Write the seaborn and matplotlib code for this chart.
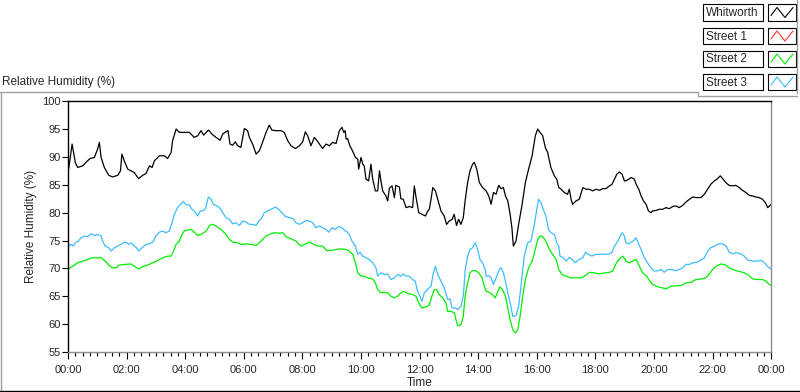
import numpy as np
import pandas as pd
import matplotlib
matplotlib.use('Agg')
import matplotlib.pyplot as plt
from matplotlib.lines import Line2D
from matplotlib.patches import Rectangle
from matplotlib.ticker import MultipleLocator, FuncFormatter
import seaborn as sns

### data (time in hours, RH in %)
whitworth_t = [0.02, 0.14, 0.25, 0.33, 0.50, 0.61, 0.75, 0.90, 1.01, 1.07, 1.13, 1.24, 1.39, 1.52, 1.70, 1.79, 1.84, 1.92,
               2.04, 2.26, 2.41, 2.55, 2.66, 2.78, 2.87, 2.95, 3.12, 3.29, 3.40, 3.52, 3.57, 3.69, 3.80, 4.14, 4.31, 4.43,
               4.54, 4.63, 4.77, 4.80, 4.91, 5.05, 5.19, 5.28, 5.39, 5.46, 5.53, 5.62, 5.71, 5.79, 5.90, 6.02, 6.13, 6.19,
               6.30, 6.42, 6.53, 6.64, 6.76, 6.87, 6.96, 7.10, 7.27, 7.38, 7.50, 7.61, 7.76, 7.90, 8.01, 8.10, 8.18, 8.29,
               8.41, 8.50, 8.58, 8.69, 8.81, 8.92, 9.03, 9.15, 9.26, 9.35, 9.41, 9.46, 9.49, 9.54, 9.62, 9.71, 9.81, 9.89,
               9.92, 10.00, 10.06, 10.11, 10.17, 10.26, 10.34, 10.40, 10.49, 10.57, 10.63, 10.68, 10.74, 10.85, 10.91,
               10.97, 11.06, 11.14, 11.19, 11.31, 11.36, 11.44, 11.54, 11.65, 11.76, 11.82, 11.88, 11.97, 12.08, 12.20,
               12.28, 12.33, 12.39, 12.45, 12.54, 12.62, 12.73, 12.84, 12.92, 13.01, 13.11, 13.18, 13.26, 13.33, 13.41,
               13.49, 13.56, 13.64, 13.72, 13.81, 13.87, 13.95, 14.04, 14.15, 14.21, 14.27, 14.36, 14.44, 14.52, 14.61,
               14.70, 14.78, 14.86, 14.93, 15.01, 15.09, 15.15, 15.20, 15.29, 15.38, 15.49, 15.61, 15.72, 15.84, 15.95,
               16.03, 16.11, 16.20, 16.29, 16.37, 16.48, 16.60, 16.68, 16.75, 16.83, 16.94, 17.05, 17.11, 17.17, 17.22,
               17.34, 17.45, 17.57, 17.68, 17.79, 17.91, 18.02, 18.14, 18.25, 18.36, 18.48, 18.57, 18.65, 18.73, 18.82,
               18.91, 18.99, 19.04, 19.14, 19.22, 19.33, 19.39, 19.48, 19.56, 19.64, 19.73, 19.81, 19.90, 19.95, 20.07,
               20.18, 20.30, 20.41, 20.52, 20.64, 20.75, 20.86, 20.98, 21.09, 21.21, 21.32, 21.43, 21.60, 21.72, 21.83,
               21.94, 22.06, 22.17, 22.26, 22.36, 22.45, 22.56, 22.68, 22.79, 22.91, 23.02, 23.14, 23.25, 23.36, 23.48,
               23.59, 23.70, 23.80, 23.88, 23.96, 24.00]
whitworth_rh = [87.8, 92.3, 89.0, 88.1, 88.4, 89.0, 89.7, 89.9, 91.4, 92.6, 89.9, 88.1, 86.7, 86.4, 86.7, 87.5, 90.5, 89.3,
                87.8, 87.2, 86.1, 86.7, 87.0, 88.4, 88.1, 89.3, 90.2, 90.2, 89.7, 90.8, 92.9, 95.0, 94.4, 94.4, 93.5, 93.8,
                94.7, 93.9, 94.7, 94.8, 94.1, 93.5, 93.0, 94.1, 94.5, 94.7, 92.3, 92.1, 92.7, 92.0, 91.7, 95.1, 94.7, 93.5,
                92.3, 90.5, 91.1, 92.6, 94.4, 95.7, 94.8, 94.7, 94.7, 94.4, 92.9, 92.0, 91.5, 92.0, 92.7, 94.5, 93.8, 92.0,
                93.5, 92.9, 92.3, 91.5, 92.3, 92.0, 92.6, 92.4, 94.7, 95.3, 94.4, 94.7, 93.2, 93.3, 92.0, 91.1, 89.9, 89.6,
                87.8, 89.9, 88.7, 88.4, 86.0, 85.7, 88.7, 86.0, 83.9, 83.9, 87.5, 85.7, 83.9, 83.0, 82.1,
                84.4, 84.8, 82.7, 84.9, 84.6, 82.5, 82.4, 80.9, 81.1, 80.9, 84.8, 82.7, 80.0, 79.7, 79.4,
                80.3, 80.6, 82.4, 84.5, 83.9, 82.4, 80.3, 79.4, 77.9, 78.5, 78.8, 79.7, 77.7, 78.8, 77.9,
                79.1, 82.4, 85.4, 87.5, 88.7, 89.0, 87.8, 85.4, 84.5, 84.2, 83.9, 83.0, 81.5, 83.6, 83.3,
                84.9, 84.3, 84.5, 83.0, 82.1, 79.7, 77.3, 74.0, 74.9, 77.9, 81.2, 85.4, 87.8, 90.2, 93.8,
                95.0, 94.4, 93.8, 91.7, 90.8, 88.1, 86.6, 86.0, 84.5, 84.2, 83.6, 83.3, 84.2, 82.4, 81.5,
                82.1, 82.4, 84.5, 84.2, 84.2, 83.9, 84.2, 84.0, 84.3, 84.3, 84.8, 85.1, 86.0, 86.9, 87.3,
                86.9, 85.7, 85.7, 86.0, 86.3, 86.0, 85.1, 84.2, 83.0, 82.1, 81.5, 80.3, 80.0, 80.3, 80.4,
                80.6, 80.6, 80.9, 80.7, 81.1, 81.2, 80.9, 81.3, 81.9, 82.4, 82.8, 82.7, 82.7, 83.3, 84.2,
                85.1, 85.7, 86.1, 86.6, 86.0, 85.4, 84.9, 84.8, 84.9, 84.5, 84.0, 83.6, 83.1, 83.0, 82.8,
                82.7, 82.4, 81.8, 80.9, 81.3, 81.5]

# Street 1 has no readings in this record
street1_t = []
street1_rh = []

street2_t = [0.02, 0.16, 0.33, 0.50, 0.67, 0.82, 1.01, 1.13, 1.27, 1.41, 1.52, 1.64, 1.75, 1.92, 2.15, 2.26, 2.41, 2.55,
             2.72, 2.89, 3.06, 3.23, 3.40, 3.52, 3.60, 3.69, 3.80, 3.89, 3.97, 4.08, 4.20, 4.31, 4.43, 4.54, 4.69, 4.77,
             4.82, 4.94, 5.05, 5.22, 5.39, 5.51, 5.62, 5.79, 5.90, 6.08, 6.25, 6.42, 6.53, 6.64, 6.76, 6.87, 7.04, 7.21,
             7.33, 7.44, 7.61, 7.78, 7.95, 8.07, 8.24, 8.35, 8.52, 8.69, 8.83, 8.98, 9.15, 9.32, 9.43, 9.49, 9.60, 9.72,
             9.81, 9.89, 10.00, 10.11, 10.23, 10.40, 10.49, 10.57, 10.68, 10.80, 10.91, 11.02, 11.14, 11.25, 11.36,
             11.44, 11.59, 11.76, 11.88, 11.97, 12.08, 12.22, 12.33, 12.42, 12.50, 12.58, 12.67, 12.79, 12.90, 12.96,
             13.07, 13.19, 13.24, 13.30, 13.41, 13.49, 13.56, 13.64, 13.72, 13.81, 13.92, 14.02, 14.13, 14.21, 14.27,
             14.38, 14.49, 14.58, 14.66, 14.74, 14.83, 14.93, 15.01, 15.09, 15.18, 15.27, 15.35, 15.43, 15.52, 15.61,
             15.72, 15.84, 15.95, 16.03, 16.11, 16.20, 16.31, 16.43, 16.54, 16.66, 16.75, 16.86, 17.00, 17.17, 17.34,
             17.51, 17.66, 17.79, 17.96, 18.13, 18.31, 18.48, 18.59, 18.70, 18.82, 18.93, 19.02, 19.04, 19.16, 19.27,
             19.39, 19.50, 19.61, 19.75, 19.86, 19.95, 20.13, 20.30, 20.41, 20.58, 20.75, 20.92, 21.09, 21.26, 21.43,
             21.60, 21.77, 21.89, 22.00, 22.12, 22.29, 22.45, 22.55, 22.68, 22.86, 23.03, 23.20, 23.37, 23.54, 23.71,
             23.82, 23.94, 24.00]
street2_rh = [69.9, 70.4, 71.0, 71.3, 71.6, 71.9, 71.9, 71.9, 71.3, 70.5, 70.1, 70.1, 70.6, 70.7, 70.8, 70.4, 69.9, 70.3,
              70.6, 71.0, 71.4, 71.9, 72.2, 72.2, 73.1, 74.3, 74.9, 76.1, 76.7, 76.9, 77.0, 76.5, 75.9, 76.1, 76.6, 77.1,
              77.7, 77.9, 77.6, 77.0, 76.1, 75.2, 74.7, 74.6, 74.3, 74.4, 74.3, 74.1, 74.6, 75.2, 75.8, 76.1, 76.4, 76.3,
              76.4, 75.7, 75.3, 74.9, 74.0, 74.3, 74.7, 74.4, 74.0, 74.0, 73.2, 73.2, 73.4, 73.5, 73.4, 73.4, 73.1, 72.5,
              71.0, 69.2, 68.6, 68.6, 68.3, 68.1, 67.4, 66.2, 65.6, 65.7, 65.6, 65.0, 64.7, 65.0, 65.6,
              65.9, 65.5, 65.3, 65.0, 63.8, 62.9, 63.1, 63.4, 65.0, 66.2, 66.2, 65.3, 64.7, 63.8, 62.3,
              62.3, 62.0, 60.8, 59.7, 59.9, 61.4, 65.3, 67.4, 69.2, 69.6, 69.6, 69.2, 68.3, 66.8, 65.9,
              65.7, 65.3, 64.7, 65.7, 66.7, 66.2, 65.0, 62.9, 60.8, 59.0, 58.4, 59.0, 61.4, 65.0, 68.0,
              70.1, 71.3, 73.4, 75.2, 75.8, 75.7, 74.9, 73.4, 72.5, 71.6, 69.8, 68.9, 68.6, 68.3, 68.3,
              68.3, 68.7, 69.3, 69.2, 69.0, 69.2, 69.3, 69.5, 70.8, 71.7, 72.2, 71.6, 71.3, 71.0, 71.3,
              71.6, 70.4, 69.2, 68.6, 67.7, 67.1, 66.7, 66.5, 66.3, 66.8, 66.9, 66.9, 67.4, 67.5, 68.0,
              68.1, 68.3, 69.0, 69.8, 70.4, 70.8, 70.6, 70.1, 69.8, 69.5, 69.3, 68.9, 68.1, 68.0, 68.0,
              67.7, 67.1, 66.9]

street3_t = [0.02, 0.10, 0.18, 0.27, 0.36, 0.44, 0.56, 0.67, 0.79, 0.90, 1.01, 1.13, 1.18, 1.27, 1.39, 1.47, 1.58, 1.70,
             1.81, 1.89, 1.98, 2.07, 2.15, 2.26, 2.34, 2.41, 2.53, 2.66, 2.78, 2.89, 3.00, 3.12, 3.23, 3.34, 3.46, 3.55,
             3.63, 3.74, 3.86, 3.94, 4.03, 4.14, 4.23, 4.31, 4.43, 4.51, 4.60, 4.69, 4.77, 4.80, 4.88, 4.96, 5.05, 5.17,
             5.28, 5.39, 5.51, 5.62, 5.73, 5.85, 5.96, 6.08, 6.19, 6.30, 6.42, 6.51, 6.62, 6.70, 6.81, 6.93, 7.08, 7.19,
             7.30, 7.42, 7.55, 7.69, 7.78, 7.90, 8.01, 8.12, 8.24, 8.35, 8.46, 8.58, 8.69, 8.81, 8.90, 9.01, 9.12, 9.24,
             9.35, 9.47, 9.49, 9.60, 9.69, 9.81, 9.89, 9.97, 10.06, 10.17, 10.28, 10.40, 10.51, 10.57, 10.68, 10.80,
             10.91, 11.02, 11.14, 11.25, 11.36, 11.44, 11.54, 11.65, 11.76, 11.85, 11.93, 12.01, 12.08, 12.16, 12.28,
             12.39, 12.47, 12.54, 12.62, 12.73, 12.84, 12.96, 13.04, 13.11, 13.22, 13.30, 13.41, 13.49, 13.56, 13.64,
             13.72, 13.81, 13.90, 13.98, 14.06, 14.15, 14.24, 14.27, 14.36, 14.44, 14.52, 14.61, 14.72, 14.78, 14.86,
             14.93, 15.01, 15.09, 15.18, 15.29, 15.38, 15.46, 15.57, 15.69, 15.80, 15.92, 15.99, 16.06, 16.14, 16.22,
             16.31, 16.40, 16.48, 16.60, 16.68, 16.75, 16.79, 16.91, 17.00, 17.11, 17.20, 17.32, 17.43, 17.57, 17.66,
             17.77, 17.88, 18.00, 18.13, 18.25, 18.36, 18.48, 18.57, 18.65, 18.73, 18.82, 18.91, 18.99, 19.04, 19.14,
             19.22, 19.29, 19.39, 19.48, 19.56, 19.67, 19.78, 19.90, 20.01, 20.14, 20.24, 20.35, 20.47, 20.58, 20.75,
             20.86, 20.98, 21.09, 21.21, 21.32, 21.46, 21.60, 21.72, 21.83, 21.94, 22.06, 22.21, 22.34, 22.46, 22.57,
             22.68, 22.80, 22.97, 23.08, 23.20, 23.37, 23.54, 23.65, 23.77, 23.88, 24.00]
street3_rh = [74.0, 74.3, 74.0, 74.7, 74.9, 75.5, 75.8, 75.7, 76.2, 75.9, 76.1, 75.8, 74.9, 74.0, 73.7, 73.1, 73.7, 74.0,
              74.3, 74.6, 74.7, 74.3, 74.6, 74.0, 73.7, 73.1, 73.7, 74.3, 74.4, 74.7, 75.8, 76.5, 76.7, 76.4, 76.7, 78.2,
              79.7, 80.9, 81.6, 82.0, 81.4, 81.4, 80.6, 80.3, 79.4, 80.3, 80.3, 80.7, 82.4, 82.8, 82.4, 81.5, 81.3, 80.9,
              80.0, 79.1, 78.8, 78.0, 78.2, 77.7, 78.5, 78.3, 77.9, 77.9, 77.7, 78.5, 79.1, 80.0, 80.3, 80.6, 81.0, 80.6,
              80.0, 79.3, 79.1, 78.9, 78.2, 77.9, 78.2, 78.6, 78.5, 78.2, 77.3, 77.6, 77.3, 77.0, 76.5, 77.3, 77.0, 77.5,
              77.3, 76.7, 76.7, 76.1, 74.9, 74.0, 72.5, 72.9, 72.2, 71.9, 71.6, 71.0, 70.1, 68.6, 69.2, 68.9,
              69.0, 68.0, 68.3, 68.9, 68.6, 69.0, 68.6, 68.6, 68.0, 67.7, 65.9, 65.0, 64.1, 65.6, 66.3,
              66.8, 69.2, 70.4, 68.9, 67.7, 66.5, 64.4, 64.5, 62.9, 62.9, 62.6, 63.2, 65.0, 69.8, 72.2,
              73.4, 73.7, 74.6, 73.4, 71.6, 71.0, 69.8, 68.6, 68.7, 68.3, 67.1, 68.3, 69.8, 70.1, 69.2,
              67.7, 65.6, 63.8, 61.4, 61.5, 63.2, 66.8, 72.2, 74.6, 74.9, 77.9, 80.3, 82.4, 81.8, 80.6,
              79.4, 77.0, 76.4, 76.1, 74.6, 74.0, 72.2, 71.9, 71.3, 72.0, 71.6, 71.0, 71.6, 71.9, 72.9,
              72.5, 72.2, 72.5, 72.5, 72.6, 72.5, 72.6, 72.9, 74.0, 74.6, 75.5, 76.4, 75.8, 74.6, 74.4,
              74.7, 74.9, 75.5, 74.3, 73.4, 71.9, 71.0, 70.1, 69.5, 69.6, 69.8, 69.3, 69.8, 69.8, 69.6,
              69.8, 70.1, 70.7, 70.7, 71.0, 71.1, 71.5, 71.9, 73.1, 73.7, 74.0, 74.4, 74.4, 74.0, 72.9,
              72.6, 72.8, 72.6, 72.2, 71.5, 71.3, 71.3, 71.5, 71.0, 70.3, 69.9]

series_names = ['Whitworth', 'Street 1', 'Street 2', 'Street 3']
series_colors = ['#000000', '#ff3030', '#00ee00', '#3cbcff']

## --> build a long dataframe for seaborn
frames = []
for name, t, rh in zip(series_names,
                       [whitworth_t, street1_t, street2_t, street3_t],
                       [whitworth_rh, street1_rh, street2_rh, street3_rh]):
    frames.append(pd.DataFrame({'hour': t, 'rh': rh, 'site': name}))
df = pd.concat(frames, ignore_index=True)

sns.set_style('white')
plt.rcParams['font.family'] = ['Liberation Sans', 'DejaVu Sans']

fig = plt.figure(figsize=(8, 3.92), dpi=100)
ax = fig.add_axes([0.085, 0.102, 0.879, 0.640])

# draw the red one first so the others sit over it
for name in ['Street 1', 'Whitworth', 'Street 3', 'Street 2']:
    sub = df[df['site'] == name]
    if len(sub) == 0:
        continue
    sns.lineplot(data=sub, x='hour', y='rh', ax=ax, color=series_colors[series_names.index(name)],
                 linewidth=0.9, estimator=None, sort=False)

ax.set_xlim(0, 24)
ax.set_ylim(55, 100)
ax.xaxis.set_major_locator(MultipleLocator(2))
ax.xaxis.set_minor_locator(MultipleLocator(0.25))
ax.yaxis.set_major_locator(MultipleLocator(5))
ax.xaxis.set_major_formatter(FuncFormatter(lambda v, p: '%02d:00' % (int(round(v)) % 24)))
ax.tick_params(axis='x', which='major', direction='out', length=5, width=0.8, labelsize=8, pad=4, color='black')
ax.tick_params(axis='x', which='minor', direction='out', length=3, width=0.8, color='black')
ax.tick_params(axis='y', which='major', direction='out', length=4, width=0.8, labelsize=8, pad=1, color='black')
ax.tick_params(bottom=True, left=True, which='both')
ax.set_xlabel('Time', fontsize=8.5, labelpad=2)
ax.set_ylabel('Relative Humidity (%)', fontsize=8.5, labelpad=4)

for side, col in [('left', 'black'), ('top', 'black'), ('bottom', '#8c8c8c'), ('right', '#8c8c8c')]:
    ax.spines[side].set_visible(True)
    ax.spines[side].set_color(col)
    ax.spines[side].set_linewidth(1.0)

W, H = 800.0, 392.0
def fx(px):
    return px / W
def fy(py):
    return 1 - py / H

# panel title and outer frame
fig.text(fx(2), fy(82), 'Relative Humidity (%)', fontsize=8.5, va='center', ha='left')
frame = [([0, 698], [92, 92], '#a0a0a0'), ([1, 1], [92, 391], '#a0a0a0'), ([0, 800], [390.5, 390.5], '#000000'),
         ([698, 698], [92, 96], '#a0a0a0'), ([797, 797], [0, 93], '#a0a0a0'), ([698, 797], [96, 96], '#a0a0a0')]
for xs, ys, c in frame:
    fig.add_artist(Line2D([fx(v) for v in xs], [fy(v) for v in ys], color=c, lw=1.0))

# legend boxes on the top right
row_top = [4.5, 28, 51, 74]
for name, col, top in zip(series_names, series_colors, row_top):
    fig.add_artist(Rectangle((fx(703), fy(top + 16)), 60 / W, 16 / H, transform=fig.transFigure,
                             facecolor='white', edgecolor='black', lw=0.8))
    fig.text(fx(706), fy(top + 8.5), name, fontsize=8.5, va='center', ha='left')
    fig.add_artist(Rectangle((fx(768), fy(top + 16)), 28 / W, 16 / H, transform=fig.transFigure,
                             facecolor='white', edgecolor='black', lw=0.8))
    zx = [771, 777, 785, 793]
    zy = [top + 11, top + 3, top + 13, top + 3]
    fig.add_artist(Line2D([fx(v) for v in zx], [fy(v) for v in zy], color=col, lw=0.8))

plt.savefig('out.png', dpi=100)
